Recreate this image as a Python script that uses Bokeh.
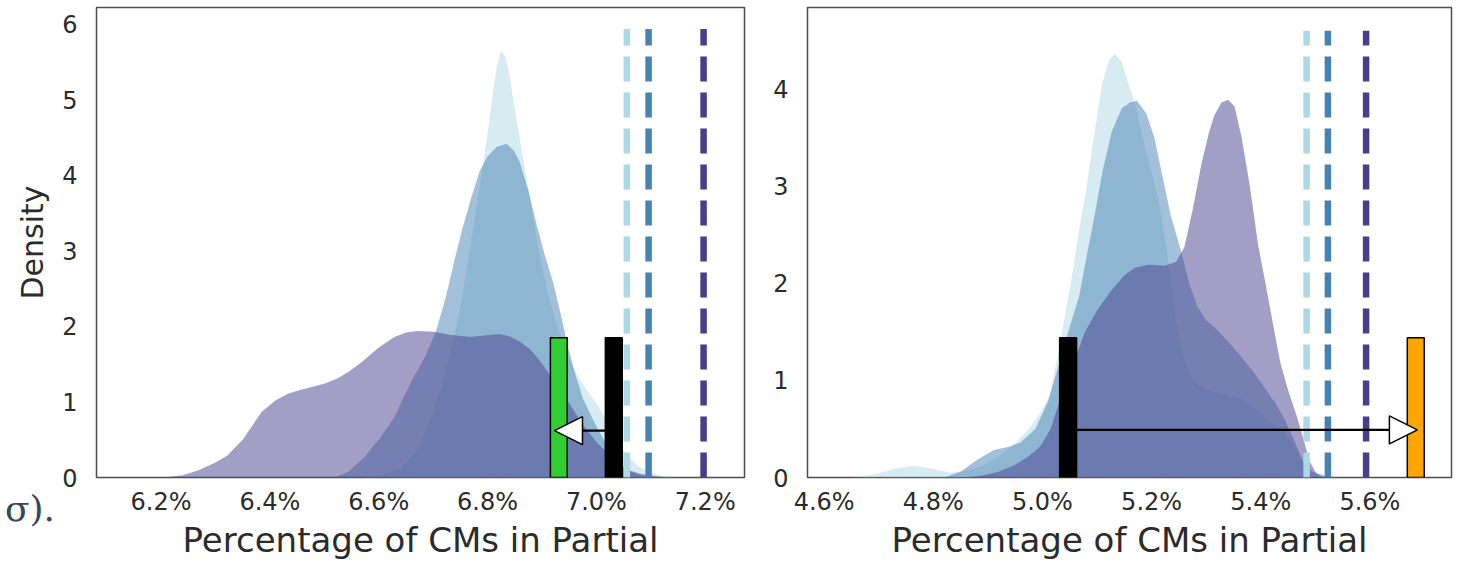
from bokeh.plotting import figure
from bokeh.layouts import row
from bokeh.models import FixedTicker, PrintfTickFormatter, Arrow, NormalHead, Range1d, Div
from bokeh.embed import file_html
from bokeh.resources import INLINE

FONT = "DejaVu Sans"
TEXT = "#2b2b2b"
SERIES_COLORS = ["#add8e6", "#4682b4", "#483d8b"]  # lightblue, steelblue, darkslateblue

# ---------------- Left panel data ----------------
L_lb_x = [6.57, 6.61, 6.64, 6.67, 6.695, 6.715, 6.735, 6.749, 6.765, 6.785, 6.80, 6.81, 6.818, 6.825,
          6.832, 6.84, 6.846, 6.86, 6.877, 6.893, 6.909, 6.928, 6.946, 6.965, 6.983, 7.001, 7.019,
          7.037, 7.056, 7.077, 7.098, 7.12, 7.145]
L_lb_y = [0, 0.04, 0.12, 0.35, 0.75, 1.2, 1.75, 2.2, 2.9, 3.82, 4.55, 5.1, 5.48, 5.65,
          5.58, 5.35, 5.05, 4.45, 3.73, 3.05, 2.5, 2.0, 1.62, 1.35, 1.15, 0.97, 0.74,
          0.5, 0.29, 0.15, 0.07, 0.02, 0]

L_sb_x = [6.519, 6.545, 6.575, 6.602, 6.629, 6.645, 6.662, 6.684, 6.706, 6.724, 6.74, 6.754, 6.77,
          6.785, 6.80, 6.817, 6.835, 6.848, 6.859, 6.875, 6.89, 6.905, 6.92, 6.935, 6.947, 6.96,
          6.975, 6.99, 7.0, 7.012, 7.03, 7.048, 7.065, 7.08, 7.1]
L_sb_y = [0, 0.08, 0.28, 0.52, 0.8, 1.05, 1.3, 1.58, 1.95, 2.41, 2.9, 3.3, 3.7,
          4.05, 4.25, 4.38, 4.42, 4.33, 4.18, 3.8, 3.35, 2.95, 2.6, 2.15, 1.75, 1.4,
          1.05, 0.82, 0.68, 0.52, 0.32, 0.16, 0.07, 0.03, 0]

L_dp_x = [6.205, 6.24, 6.27, 6.30, 6.322, 6.35, 6.385, 6.41, 6.433, 6.455, 6.477, 6.50, 6.524,
          6.545, 6.569, 6.60, 6.629, 6.65, 6.672, 6.70, 6.73, 6.767, 6.795, 6.822, 6.84, 6.859,
          6.878, 6.896, 6.92, 6.947, 6.975, 7.0, 7.015, 7.035, 7.05, 7.08, 7.11, 7.135]
L_dp_y = [0, 0.03, 0.1, 0.2, 0.29, 0.5, 0.87, 1.02, 1.11, 1.16, 1.2, 1.24, 1.31,
          1.4, 1.53, 1.72, 1.86, 1.92, 1.94, 1.93, 1.89, 1.86, 1.88, 1.9, 1.87, 1.8,
          1.7, 1.55, 1.3, 1.02, 0.7, 0.47, 0.36, 0.2, 0.12, 0.05, 0.015, 0]

L_dashed_x = [7.056, 7.096, 7.197]
L_bar_x = [6.931, 7.032]
L_bar_colors = ["limegreen", "black"]
L_bar_top = 1.85
L_arrow = (7.032, 6.923, 0.62)   # from, to, level
L_dash_top = 5.94

# ---------------- Right panel data ----------------
R_lb_x = [4.65, 4.69, 4.73, 4.765, 4.80, 4.83, 4.86, 4.89, 4.92, 4.95, 4.975, 4.995, 5.013, 5.028,
          5.042, 5.055, 5.067, 5.08, 5.091, 5.109, 5.122, 5.133, 5.145, 5.158, 5.17, 5.19, 5.212,
          5.225, 5.235, 5.245, 5.255, 5.265, 5.278, 5.295, 5.314, 5.34, 5.363, 5.385, 5.405, 5.427,
          5.449, 5.467, 5.482, 5.495]
R_lb_y = [0, 0.03, 0.09, 0.12, 0.09, 0.05, 0.07, 0.12, 0.22, 0.35, 0.5, 0.65, 0.84, 1.25,
          1.69, 2.1, 2.54, 2.95, 3.39, 4.04, 4.3, 4.36, 4.28, 4.05, 3.84, 3.35, 2.88,
          2.45, 2.05, 1.6, 1.32, 1.12, 0.98, 0.91, 0.88, 0.85, 0.81, 0.73, 0.63, 0.53,
          0.43, 0.27, 0.1, 0]

R_sb_x = [4.82, 4.85, 4.88, 4.91, 4.94, 4.96, 4.987, 5.01, 5.031, 5.05, 5.067, 5.08, 5.096, 5.11,
          5.127, 5.145, 5.16, 5.173, 5.19, 5.205, 5.22, 5.235, 5.2535, 5.27, 5.284, 5.30, 5.32,
          5.34, 5.363, 5.385, 5.405, 5.425, 5.441, 5.46, 5.478, 5.495, 5.52, 5.54]
R_sb_y = [0, 0.06, 0.18, 0.28, 0.32, 0.36, 0.5, 0.78, 1.18, 1.55, 1.86, 2.25, 2.71, 3.15,
          3.56, 3.8, 3.86, 3.88, 3.75, 3.5, 3.1, 2.7, 2.34, 1.98, 1.76, 1.62, 1.52,
          1.4, 1.25, 1.1, 0.94, 0.78, 0.63, 0.4, 0.16, 0.06, 0.015, 0]

R_dp_x = [4.86, 4.89, 4.92, 4.95, 4.975, 4.996, 5.015, 5.035, 5.055, 5.078, 5.10, 5.127, 5.15,
          5.169, 5.195, 5.224, 5.245, 5.26, 5.275, 5.291, 5.305, 5.315, 5.328, 5.34, 5.352, 5.365,
          5.38, 5.395, 5.412, 5.425, 5.436, 5.45, 5.466, 5.478, 5.49, 5.502, 5.515]
R_dp_y = [0, 0.02, 0.06, 0.13, 0.22, 0.32, 0.5, 0.85, 1.15, 1.5, 1.72, 1.93, 2.08,
          2.16, 2.19, 2.18, 2.22, 2.37, 2.75, 3.22, 3.55, 3.73, 3.86, 3.89, 3.82, 3.5,
          3.0, 2.4, 1.9, 1.5, 1.18, 0.9, 0.63, 0.4, 0.16, 0.04, 0]

R_dashed_x = [5.484, 5.523, 5.593]
R_bar_x = [5.047, 5.684]
R_bar_colors = ["black", "orange"]
R_bar_top = 1.44
R_arrow = (5.047, 5.687, 0.49)
R_dash_top = 4.60

L_xticks = [6.2, 6.4, 6.6, 6.8, 7.0, 7.2]
R_xticks = [4.6, 4.8, 5.0, 5.2, 5.4, 5.6]
L_yticks = [0, 1, 2, 3, 4, 5, 6]
R_yticks = [0, 1, 2, 3, 4]

XLABEL = "Percentage of CMs in Partial"
YLABEL = "Density"
STRAY_TEXT = "σ)."


def make_panel(width, mb_left, mb_right, xr, yr, xticks, yticks, curves, dashed_x, dash_top,
               bar_x, bar_colors, bar_top, arrow, ylabel=None):
    p = figure(width=width, height=562, x_range=Range1d(*xr), y_range=Range1d(*yr),
               output_backend="svg", toolbar_location=None,
               min_border_left=mb_left, min_border_right=mb_right,
               min_border_top=7, min_border_bottom=84)
    p.background_fill_color = "white"
    p.border_fill_color = "white"
    p.outline_line_color = "#4d4d4d"
    p.outline_line_width = 1.5
    p.xgrid.visible = False
    p.ygrid.visible = False
    for ax in (p.xaxis[0], p.yaxis[0]):
        ax.axis_line_color = None
        ax.major_tick_line_color = None
        ax.minor_tick_line_color = None
        ax.major_label_text_font = FONT
        ax.major_label_text_font_size = "24px"
        ax.major_label_text_color = TEXT
        ax.axis_label_text_font = FONT
        ax.axis_label_text_font_style = "normal"
        ax.axis_label_text_color = TEXT
    p.xaxis.ticker = FixedTicker(ticks=xticks)
    p.xaxis.formatter = PrintfTickFormatter(format="%.1f%%")
    p.xaxis.major_label_standoff = 4
    p.xaxis.axis_label = XLABEL
    p.xaxis.axis_label_text_font_size = "34px"
    p.xaxis.axis_label_standoff = 1
    p.yaxis.ticker = FixedTicker(ticks=yticks)
    p.yaxis.major_label_standoff = 13
    if ylabel:
        p.yaxis.axis_label = ylabel
        p.yaxis.axis_label_text_font_size = "30px"
        p.yaxis.axis_label_standoff = 9

    for (xs, ys), c in zip(curves, SERIES_COLORS):
        p.varea(x=xs, y1=[0] * len(xs), y2=ys, fill_color=c, fill_alpha=0.5)

    p.segment(x0=dashed_x, y0=[0] * len(dashed_x), x1=dashed_x, y1=[dash_top] * len(dashed_x),
              line_color=SERIES_COLORS, line_width=6.5, line_dash="25 11")

    p.vbar(x=bar_x, width=0.031, bottom=0, top=bar_top, fill_color=bar_colors,
           line_color="black", line_width=1.5)

    x0, x1, yl = arrow
    p.add_layout(Arrow(x_start=x0, y_start=yl, x_end=x1, y_end=yl, line_color="black", line_width=2.2,
                       end=NormalHead(size=28, fill_color="white", line_color="black", line_width=1.5)))
    return p


p1 = make_panel(770, 96, 26, (6.0814, 7.2722), (0, 6.224), L_xticks, L_yticks,
                [(L_lb_x, L_lb_y), (L_sb_x, L_sb_y), (L_dp_x, L_dp_y)],
                L_dashed_x, L_dash_top, L_bar_x, L_bar_colors, L_bar_top, L_arrow, ylabel=YLABEL)

p2 = make_panel(684, 34, 3, (4.5695, 5.7495), (0, 4.839), R_xticks, R_yticks,
                [(R_lb_x, R_lb_y), (R_sb_x, R_sb_y), (R_dp_x, R_dp_y)],
                R_dashed_x, R_dash_top, R_bar_x, R_bar_colors, R_bar_top, R_arrow)

stray = Div(text=STRAY_TEXT, width=60, height=44,
            styles={"position": "absolute", "left": "0px", "top": "486px", "z-index": "10",
                    "font-family": "DejaVu Serif", "font-size": "36px", "line-height": "1",
                    "color": "#34495e", "white-space": "nowrap"})

layout = row(p1, p2, stray)
open("out.html", "w").write(file_html(layout, INLINE))
